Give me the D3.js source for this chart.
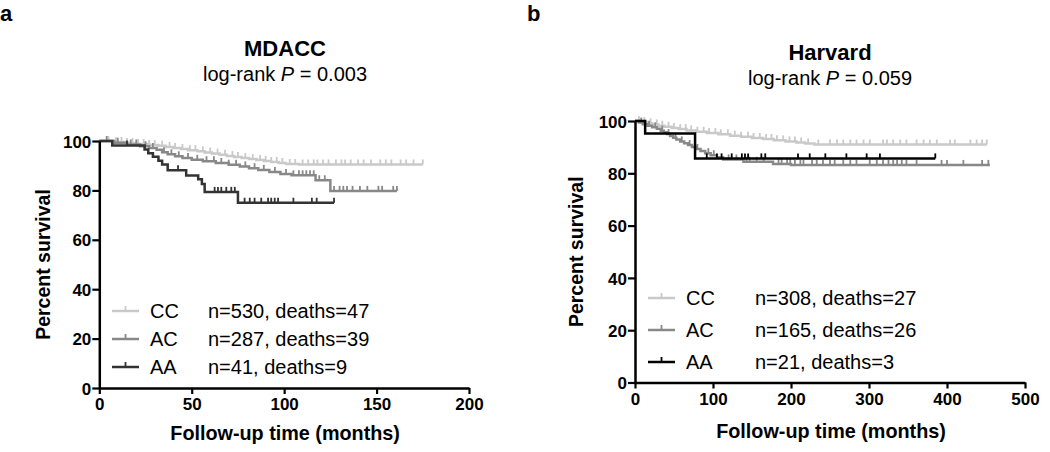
<!DOCTYPE html>
<html>
<head>
<meta charset="UTF-8">
<style>
  body { margin: 0; background: #fff; }
  svg { display: block; font-family: "Liberation Sans", Arial, sans-serif; }
  .tick text { font-weight: bold; font-size: 17px; fill: #000; }
</style>
</head>
<body>
<svg id="chart" width="1050" height="452"></svg>
<script src="https://d3js.org/d3.v7.min.js"></script>
<script>
// ---- data: [time (months), percent survival] at each step ----
const groups = ["CC", "AC", "AA"];

const mdaccCC = [[0,100],[9,99.6],[15,99.2],[21,98.8],[27,98.4],[32,98.1],[36,97.6],[40,97.2],[44,96.8],[48,96.3],[53,95.8],[57,95.3],[61,94.9],[65,94.4],[69,93.9],[73,93.5],[77,93.1],[81,92.7],[85,92.3],[89,91.9],[93,91.5],[97,91.1],[101,90.7],[108,90.5]];
const mdaccAC = [[0,100],[8,99.3],[15,98.6],[22,97.9],[27,97.2],[31,96.5],[34,95.4],[37,94.6],[41,93.8],[45,93.1],[50,92.4],[56,91.8],[63,91.1],[70,90.4],[76,89.7],[81,89],[86,88.3],[92,87.5],[98,86.6],[104,86.1],[117,84.1],[125,79.8]];
const mdaccAA = [[0,100],[7,98.2],[24.5,96.6],[26.5,95],[29,93.6],[32,92],[34,90.5],[37,88.2],[47,86],[53.5,84.5],[55.5,82.6],[57,79.4],[75,75]];
const mdaccEnd = [175, 161, 127];
const mdaccCensCC = [5,9,12,15,18,21,24,27,30,34,38,41,45,49,52,56,60,64,68,72,75,79,83,87,90,93,96,99,103,106,110,113,116,118,121,124,128,131,133,136,140,143,147,152,155,158,163,166,170,175];
const mdaccCensAC = [4,10,17,20,25,29,35,39,43,48,53,58,62,66,70,74,79,84,89,95,101,105,108,110,112,114,116,119,122,127,130,132,134,137,141,145,151,153,159,161];
const mdaccCensAA = [15,42.6,62.4,64.2,66,68.7,71.4,73.3,78.6,81.4,84,87.6,91.3,93,94.9,96.7,105,115,117.6,127];
const mdaccLegend = ["n=530, deaths=47", "n=287, deaths=39", "n=41, deaths=9"];

const harvardCC = [[0,100],[8,99.6],[15,99.1],[22,98.7],[30,98.2],[38,97.8],[47,97.3],[56,96.9],[66,96.4],[79,95.9],[92,95.4],[107,94.9],[122,94.4],[136,94],[150,93.5],[164,93.1],[178,92.6],[193,92.2],[207,91.8],[218,91.4],[230,91]];
const harvardAC = [[0,100],[5,99.4],[10,98.8],[16,98.2],[22,97.6],[28,97],[33,96.3],[37,95.7],[41,95],[45,94.3],[49,93.6],[53,92.9],[58,92.2],[63,91.5],[68,90.8],[73,90.1],[79,89.3],[84,88.5],[90,87.7],[97,86.9],[105,86.1],[113,85.3],[139,84.4],[177,83.6],[200,83.2]];
const harvardAA = [[0,100],[13,95.2],[77,85.7]];
const harvardEnd = [451, 455, 385];
const harvardCensCC = [5,12,20,28,35,43,50,58,65,72,80,88,95,103,110,119,128,136,145,152,160,168,175,182,190,198,205,213,222,235,250,259,267,276,284,293,301,318,323,331,340,348,361,370,378,387,404,410,430,438,445,451];
const harvardCensAC = [8,18,26,35,43,52,60,70,80,94,101,120,130,143,147,156,165,184,188,195,199,205,212,216,227,233,241,250,256,267,276,284,301,310,318,325,331,336,342,348,361,393,400,421,445,453];
const harvardCensAA = [92,105,111,124,137,141,145,162,167,209,224,244,271,297,314,385];
const harvardLegend = ["n=308, deaths=27", "n=165, deaths=26", "n=21, deaths=3"];

const yTicks = [0, 20, 40, 60, 80, 100];

const svg = d3.select("#chart");

function survAt(steps, t) {
  let s = steps[0][1];
  steps.forEach(d => { if (d[0] <= t) s = d[1]; });
  return s;
}

function drawPanel(p) {
  let x = d3.scaleLinear().domain(p.xDomain).range(p.xRange);
  let y = d3.scaleLinear().domain([0, 100]).range(p.yRange);
  let g = svg.append("g");

  // curves
  let line = d3.line().x(d => x(d[0])).y(d => y(d[1])).curve(d3.curveStepAfter);
  p.series.forEach((steps, i) => {
    let pts = steps.concat([[p.ends[i], steps[steps.length - 1][1]]]);
    g.append("path")
      .attr("d", line(pts))
      .attr("fill", "none")
      .attr("stroke", p.colors[i])
      .attr("stroke-width", 2.5);
    g.selectAll(null)
      .data(p.censors[i])
      .enter()
      .append("line")
      .attr("x1", d => x(d)).attr("x2", d => x(d))
      .attr("y1", d => y(survAt(steps, d)))
      .attr("y2", d => y(survAt(steps, d)) - 5)
      .attr("stroke", p.colors[i])
      .attr("stroke-width", 1.8);
  });

  // axes
  let xAxis = g.append("g")
    .attr("transform", "translate(0," + p.yRange[0] + ")")
    .call(d3.axisBottom(x).tickValues(p.xTicks).tickSize(6).tickSizeOuter(0).tickPadding(4));
  let yAxis = g.append("g")
    .attr("transform", "translate(" + p.xRange[0] + ",0)")
    .call(d3.axisLeft(y).tickValues(yTicks).tickSize(7).tickSizeOuter(0).tickPadding(1));
  [xAxis, yAxis].forEach(a => {
    a.select(".domain").attr("stroke", "#000").attr("stroke-width", 2.5);
    a.selectAll(".tick line").attr("stroke", "#000").attr("stroke-width", 2.2);
  });
  yAxis.selectAll(".tick text").attr("dy", "0.36em");

  // axis titles
  g.append("text")
    .attr("x", (p.xRange[0] + p.xRange[1]) / 2 + 1)
    .attr("y", p.xTitleY)
    .attr("text-anchor", "middle")
    .attr("font-weight", "bold")
    .attr("font-size", 19.8)
    .text("Follow-up time (months)");
  g.append("text")
    .attr("transform", "translate(" + p.yTitleX + "," + (p.yRange[0] + p.yRange[1]) / 2 + ") rotate(-90)")
    .attr("text-anchor", "middle")
    .attr("font-weight", "bold")
    .attr("font-size", 19.5)
    .text("Percent survival");

  // titles
  g.append("text")
    .attr("x", p.titleX).attr("y", p.titleY)
    .attr("text-anchor", "middle")
    .attr("font-weight", "bold")
    .attr("font-size", 22)
    .text(p.title);
  let sub = g.append("text")
    .attr("x", p.titleX).attr("y", p.titleY + 25)
    .attr("text-anchor", "middle")
    .attr("font-size", 20);
  sub.append("tspan").text("log-rank ");
  sub.append("tspan").attr("font-style", "italic").text("P");
  sub.append("tspan").text(" = " + p.pval);

  // panel letter
  g.append("text")
    .attr("x", p.letterX).attr("y", 21)
    .attr("font-weight", "bold")
    .attr("font-size", 22)
    .text(p.letter);

  // legend
  groups.forEach((name, i) => {
    let cy = p.legY + i * p.legGap;
    g.append("line")
      .attr("x1", p.legX).attr("x2", p.legX + 27)
      .attr("y1", cy).attr("y2", cy)
      .attr("stroke", p.colors[i]).attr("stroke-width", 2.5);
    g.append("line")
      .attr("x1", p.legX + 13.5).attr("x2", p.legX + 13.5)
      .attr("y1", cy).attr("y2", cy - 5)
      .attr("stroke", p.colors[i]).attr("stroke-width", 1.8);
    g.append("text")
      .attr("x", p.legX + 38).attr("y", cy + 7)
      .attr("font-size", 20)
      .text(name);
    g.append("text")
      .attr("x", p.legNX).attr("y", cy + 7)
      .attr("font-size", 20)
      .text(p.legend[i]);
  });
}

drawPanel({
  title: "MDACC", pval: "0.003", letter: "a", letterX: 0,
  titleX: 285, titleY: 56,
  xDomain: [0, 200], xRange: [99.3, 469], yRange: [388, 141],
  xTicks: [0, 50, 100, 150, 200],
  xTitleY: 440, yTitleX: 50,
  series: [mdaccCC, mdaccAC, mdaccAA], ends: mdaccEnd,
  censors: [mdaccCensCC, mdaccCensAC, mdaccCensAA],
  colors: ["#c9c9c9", "#888888", "#333333"],
  legend: mdaccLegend, legX: 112, legNX: 208, legY: 311, legGap: 28
});

drawPanel({
  title: "Harvard", pval: "0.059", letter: "b", letterX: 527,
  titleX: 830, titleY: 60,
  xDomain: [0, 500], xRange: [635, 1025], yRange: [382.5, 121],
  xTicks: [0, 100, 200, 300, 400, 500],
  xTitleY: 438, yTitleX: 583,
  series: [harvardCC, harvardAC, harvardAA], ends: harvardEnd,
  censors: [harvardCensCC, harvardCensAC, harvardCensAA],
  colors: ["#c9c9c9", "#888888", "#000000"],
  legend: harvardLegend, legX: 648, legNX: 755, legY: 298, legGap: 32
});
</script>
</body>
</html>
